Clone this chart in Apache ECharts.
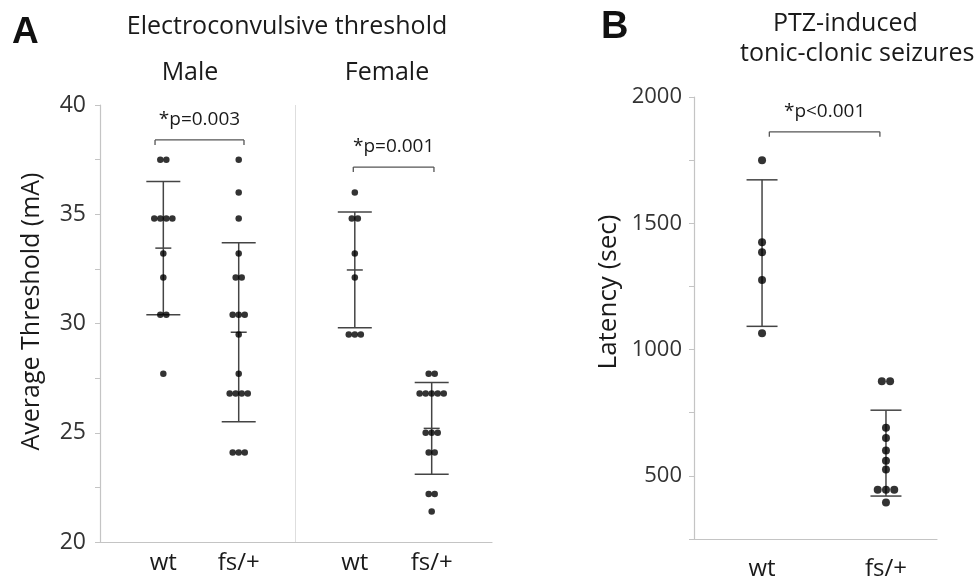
<!DOCTYPE html>
<html><head><meta charset="utf-8">
<script src="https://cdn.jsdelivr.net/npm/echarts@6/dist/echarts.min.js"></script>
<style>html,body{margin:0;padding:0;background:#fff}#c{width:977px;height:587px}</style>
</head><body><div id="c"></div>
<script>
// ---------- data ----------
const catA = ['wt', 'fs/+', 'wt', 'fs/+'];
const posA = [0.84, 1.84, 3.38, 4.4];
const maleWt = [37.5, 37.5, 34.8, 34.8, 34.8, 34.8, 33.2, 32.1, 30.4, 30.4, 27.7];
const maleFs = [37.5, 36.0, 34.8, 33.2, 32.1, 32.1, 30.4, 30.4, 30.4, 29.5, 27.7, 26.8, 26.8, 26.8, 26.8, 24.1, 24.1, 24.1];
const femaleWt = [36.0, 34.8, 34.8, 33.2, 32.1, 29.5, 29.5, 29.5];
const femaleFs = [27.7, 27.7, 26.8, 26.8, 26.8, 26.8, 26.8, 25.0, 25.0, 25.0, 24.1, 24.1, 22.2, 22.2, 21.4];
const meanA = [33.45, 29.6, 32.45, 25.2];
const sdA = [3.05, 4.1, 2.65, 2.1];
const yTicksA = [20, 25, 30, 35, 40];
const dividerA = [2.59];
const bracketsA = [[0.73, 1.91, 38.4], [3.36, 4.43, 37.16]];
const pLabelsA = ['*p=0.003', '*p=0.001'];

const catB = ['wt', 'fs/+'];
const posB = [0.28, 0.79];
const wtB = [1750, 1425, 1385, 1275, 1065];
const fsB = [875, 875, 690, 650, 600, 560, 525, 445, 445, 445, 395];
const meanB = [1382, 590];
const sdB = [290, 170];
const yTicksB = [500, 1000, 1500, 2000];
const bracketsB = [[0.31, 0.765, 1862]];
const pLabelsB = ['*p<0.001'];

// ---------- helpers ----------
const FONT = '"Open Sans", "Noto Sans", sans-serif';
const TXT = '#1a1a1a';
const AX = '#c4c4c4';

function swarm(vals, center, step) {
  const counts = {}, seen = {};
  vals.forEach(v => counts[v] = (counts[v] || 0) + 1);
  return vals.map(v => {
    const k = seen[v] || 0; seen[v] = k + 1;
    const n = counts[v];
    return [center + (k - (n - 1) / 2) * step, v];
  });
}
function nearestLabel(pos, cats) {
  return v => { let bi = 0; pos.forEach((p, i) => { if (Math.abs(p - v) < Math.abs(pos[bi] - v)) bi = i; }); return cats[bi]; };
}
function errRender(capW, meanW) {
  return function (params, api) {
    const x = api.value(0), m = api.value(1), s = api.value(2);
    const pm = api.coord([x, m]), pu = api.coord([x, m + s]), pl = api.coord([x, m - s]);
    const st = { stroke: '#444', lineWidth: 1.5 };
    const ch = [
      { type: 'line', shape: { x1: pu[0], y1: pu[1], x2: pl[0], y2: pl[1] }, style: st },
      { type: 'line', shape: { x1: pu[0] - capW, y1: pu[1], x2: pu[0] + capW, y2: pu[1] }, style: st },
      { type: 'line', shape: { x1: pl[0] - capW, y1: pl[1], x2: pl[0] + capW, y2: pl[1] }, style: st }
    ];
    if (meanW) ch.push({ type: 'line', shape: { x1: pm[0] - meanW, y1: pm[1], x2: pm[0] + meanW, y2: pm[1] }, style: st });
    return { type: 'group', children: ch };
  };
}
function bracketRender(labels) {
  return function (params, api) {
    const a = api.coord([api.value(0), api.value(2)]), b = api.coord([api.value(1), api.value(2)]);
    const st = { stroke: '#555', lineWidth: 1.3 };
    return { type: 'group', children: [
      { type: 'line', shape: { x1: a[0], y1: a[1], x2: b[0], y2: b[1] }, style: st },
      { type: 'line', shape: { x1: a[0], y1: a[1], x2: a[0], y2: a[1] + 5 }, style: st },
      { type: 'line', shape: { x1: b[0], y1: b[1], x2: b[0], y2: b[1] + 5 }, style: st },
      { type: 'text', style: { text: labels[params.dataIndex], x: (a[0] + b[0]) / 2, y: a[1] - 20,
        align: 'center', verticalAlign: 'middle', fontSize: 19, fontFamily: FONT, fill: TXT } }
    ] };
  };
}

const stepA = 0.08, stepB = 0.034;
const dotsA = [].concat(
  swarm(maleWt, posA[0], stepA), swarm(maleFs, posA[1], stepA),
  swarm(femaleWt, posA[2], stepA), swarm(femaleFs, posA[3], stepA));
const dotsB = [].concat(swarm(wtB, posB[0], stepB), swarm(fsB, posB[1], stepB));

const chart = echarts.init(document.getElementById('c'), null, { renderer: 'canvas' });
chart.setOption({
  animation: false,
  backgroundColor: '#fff',
  textStyle: { fontFamily: FONT },
  grid: [
    { left: 100, top: 105, width: 392, height: 437 },
    { left: 694, top: 97, width: 243, height: 442 }
  ],
  xAxis: [
    { type: 'value', gridIndex: 0, min: 0, max: 5.2,
      axisLine: { show: true, lineStyle: { color: AX, width: 1.2 } }, axisTick: { show: false },
      splitLine: { show: false },
      axisLabel: { customValues: posA, formatter: nearestLabel(posA, catA), fontSize: 24, color: TXT, margin: 9, fontFamily: FONT } },
    { type: 'value', gridIndex: 1, min: 0, max: 1,
      axisLine: { show: true, lineStyle: { color: AX, width: 1.2 } }, axisTick: { show: false },
      splitLine: { show: false },
      axisLabel: { customValues: posB, formatter: nearestLabel(posB, catB), fontSize: 24, color: TXT, margin: 18, fontFamily: FONT } }
  ],
  yAxis: [
    { type: 'value', gridIndex: 0, min: 20, max: 40, interval: 2.5,
      axisLine: { show: true, lineStyle: { color: AX, width: 1.2 } },
      axisTick: { show: true, length: 5, lineStyle: { color: AX } },
      splitLine: { show: false },
      axisLabel: { formatter: v => (yTicksA.indexOf(v) >= 0 ? String(v) : ''), fontSize: 23, color: '#333', margin: 14, fontFamily: FONT },
      name: 'Average Threshold (mA)', nameLocation: 'middle', nameGap: 56,
      nameTextStyle: { fontSize: 25, color: TXT, fontFamily: FONT, padding: [0, 0, 0, 24] } },
    { type: 'value', gridIndex: 1, min: 250, max: 2000, interval: 250,
      axisLine: { show: true, lineStyle: { color: AX, width: 1.2 } },
      axisTick: { show: true, length: 5, lineStyle: { color: AX } },
      splitLine: { show: false },
      axisLabel: { formatter: v => (yTicksB.indexOf(v) >= 0 ? String(v) : ''), fontSize: 22, color: '#333', margin: 12, fontFamily: FONT },
      name: 'Latency (sec)', nameLocation: 'middle', nameGap: 72,
      nameTextStyle: { fontSize: 26, color: TXT, fontFamily: FONT, padding: [0, 0, 0, 52] } }
  ],
  graphic: [
    { type: 'text', x: 12, y: 33, style: { text: 'A', fontSize: 37, fontWeight: 'bold', fontFamily: '"Liberation Sans", Arial, sans-serif', fill: '#111', verticalAlign: 'middle' } },
    { type: 'text', x: 287, y: 27, style: { text: 'Electroconvulsive threshold', fontSize: 25, fontFamily: FONT, fill: TXT, align: 'center', verticalAlign: 'middle' } },
    { type: 'text', x: 190, y: 73, style: { text: 'Male', fontSize: 25, fontFamily: FONT, fill: TXT, align: 'center', verticalAlign: 'middle' } },
    { type: 'text', x: 387, y: 73, style: { text: 'Female', fontSize: 25, fontFamily: FONT, fill: TXT, align: 'center', verticalAlign: 'middle' } },
    { type: 'text', x: 601, y: 28, style: { text: 'B', fontSize: 38, fontWeight: 'bold', fontFamily: '"Liberation Sans", Arial, sans-serif', fill: '#111', verticalAlign: 'middle' } },
    { type: 'text', x: 773, y: 24, style: { text: 'PTZ-induced', fontSize: 25, fontFamily: FONT, fill: TXT, align: 'left', verticalAlign: 'middle' } },
    { type: 'text', x: 740, y: 54, style: { text: 'tonic-clonic seizures', fontSize: 25, fontFamily: FONT, fill: TXT, align: 'left', verticalAlign: 'middle' } }
  ],
  series: [
    { type: 'custom', xAxisIndex: 0, yAxisIndex: 0, z: 2, clip: false,
      renderItem: errRender(17, 8), data: posA.map((p, i) => [p, meanA[i], sdA[i]]) },
    { type: 'scatter', xAxisIndex: 0, yAxisIndex: 0, z: 3, symbolSize: 6.5,
      itemStyle: { color: '#000' }, data: dotsA,
      markLine: { silent: true, symbol: 'none', label: { show: false },
        lineStyle: { color: '#dedede', type: 'solid', width: 1 }, data: dividerA.map(v => ({ xAxis: v })) } },
    { type: 'custom', xAxisIndex: 0, yAxisIndex: 0, z: 2, clip: false,
      renderItem: bracketRender(pLabelsA), data: bracketsA },
    { type: 'custom', xAxisIndex: 1, yAxisIndex: 1, z: 2, clip: false,
      renderItem: errRender(15.5, 0), data: posB.map((p, i) => [p, meanB[i], sdB[i]]) },
    { type: 'scatter', xAxisIndex: 1, yAxisIndex: 1, z: 3, symbolSize: 8,
      itemStyle: { color: '#000' }, data: dotsB },
    { type: 'custom', xAxisIndex: 1, yAxisIndex: 1, z: 2, clip: false,
      renderItem: bracketRender(pLabelsB), data: bracketsB }
  ]
});
</script></body></html>
